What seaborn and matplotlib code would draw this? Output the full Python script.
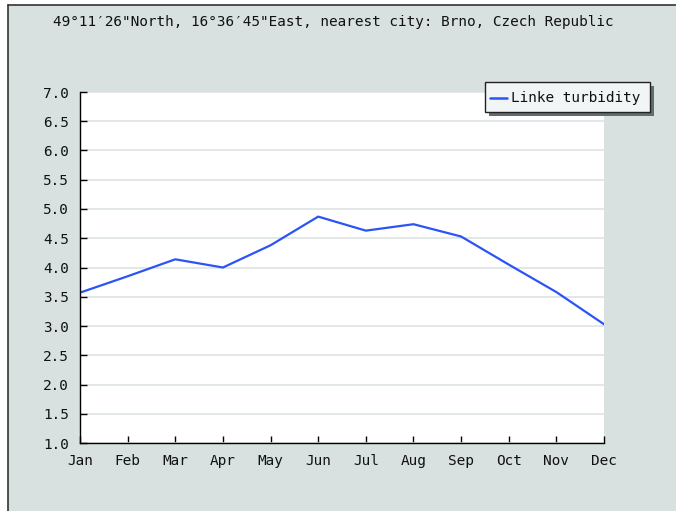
import matplotlib
matplotlib.use("Agg")
import matplotlib.pyplot as plt
from matplotlib.patches import Rectangle
from matplotlib.lines import Line2D
import seaborn as sns
import pandas as pd

months = ["Jan", "Feb", "Mar", "Apr", "May", "Jun",
          "Jul", "Aug", "Sep", "Oct", "Nov", "Dec"]
turbidity = [3.57, 3.85, 4.14, 4.00, 4.38, 4.87,
             4.63, 4.74, 4.53, 4.05, 3.58, 3.03]
y_ticks = [1.0, 1.5, 2.0, 2.5, 3.0, 3.5, 4.0, 4.5, 5.0, 5.5, 6.0, 6.5, 7.0]
title = "49°11′26\"North, 16°36′45\"East, nearest city: Brno, Czech Republic"
series_name = "Linke turbidity"

df = pd.DataFrame({"idx": range(len(months)), "month": months, "value": turbidity})

sns.set_theme(style="white")
plt.rcParams["font.family"] = ["DejaVu Sans Mono", "DejaVu Sans"]

W, H = 676, 511
fig = plt.figure(figsize=(W / 100, H / 100), dpi=100)
fig.patch.set_facecolor("white")

# grey panel with dark left/top border
panel_bg = "#d8e0e0"
fig.add_artist(Rectangle((8 / W, 0), 1, 1 - 5 / H, transform=fig.transFigure,
                         facecolor=panel_bg, edgecolor="none", zorder=-10))
fig.add_artist(Line2D([8 / W, 8 / W], [0, 1 - 5 / H], transform=fig.transFigure,
                      color="#333333", lw=1.2))
fig.add_artist(Line2D([8 / W, 1], [1 - 5 / H, 1 - 5 / H], transform=fig.transFigure,
                      color="#333333", lw=1.2))

x0, x1, y0, y1 = 80, 604, 92, 443
ax = fig.add_axes([x0 / W, 1 - y1 / H, (x1 - x0) / W, (y1 - y0) / H])
ax.set_facecolor("white")

sns.lineplot(data=df, x="idx", y="value", ax=ax, color="#2b54f7", lw=1.6,
             label=series_name, legend=False)

ax.set_xlim(0, len(months) - 1)
ax.set_ylim(1, 7)
ax.set_yticks(y_ticks)
ax.set_yticklabels([f"{v:.1f}" for v in y_ticks])
ax.set_xticks(range(len(months)))
ax.set_xticklabels(months)
ax.set_xlabel("")
ax.set_ylabel("")

ax.grid(axis="y", color="#dde4e4", lw=1.2)
ax.set_axisbelow(True)
for s in ["top", "right"]:
    ax.spines[s].set_visible(False)
for s in ["left", "bottom"]:
    ax.spines[s].set_visible(True)
    ax.spines[s].set_color("black")
    ax.spines[s].set_linewidth(1.0)

ax.tick_params(axis="both", direction="in", length=5, width=1.0, color="black",
               labelsize=10.4, labelcolor="#111111", left=True, bottom=True)
ax.tick_params(axis="y", pad=8)
ax.tick_params(axis="x", pad=8)

fig.text(333 / W, 1 - 22 / H, title, ha="center", va="center",
         fontsize=10.4, color="#111111")

# legend with hard drop shadow
lx0, ly0, lx1, ly1 = 485, 82, 650, 112
fig.add_artist(Rectangle(((lx0 + 4) / W, 1 - (ly1 + 4) / H), (lx1 - lx0) / W,
                         (ly1 - ly0) / H, transform=fig.transFigure,
                         facecolor="#5f6e6e", edgecolor="none", zorder=5))
fig.add_artist(Rectangle((lx0 / W, 1 - ly1 / H), (lx1 - lx0) / W, (ly1 - ly0) / H,
                         transform=fig.transFigure, facecolor="#f2f5f5",
                         edgecolor="#222222", lw=1.0, zorder=6))
fig.add_artist(Line2D([490 / W, 507 / W], [1 - 98 / H, 1 - 98 / H],
                      transform=fig.transFigure, color="#2b54f7", lw=1.8, zorder=7))
fig.text(511 / W, 1 - 98 / H, series_name, ha="left", va="center",
         fontsize=10.4, color="#111111", zorder=7)

fig.savefig("out.png", dpi=100)
